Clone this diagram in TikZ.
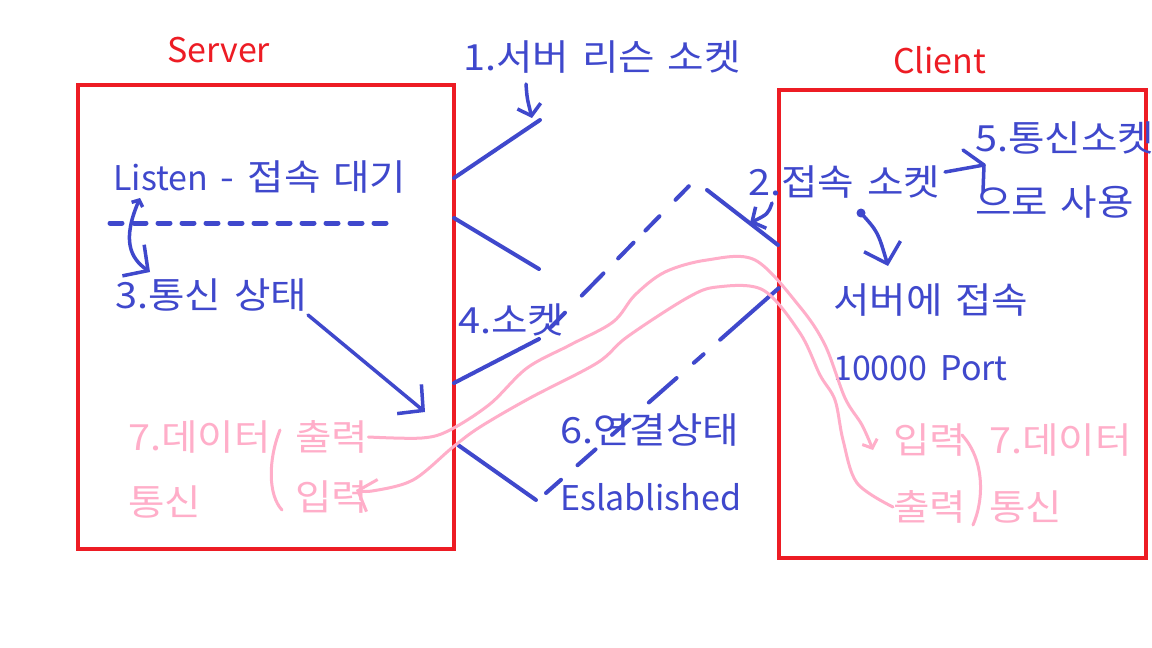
\documentclass[tikz,border=0pt]{standalone}
\usepackage{fontspec}
\setmainfont{Noto Sans CJK KR}
\newfontfamily\kr[Scale=1.06,FakeStretch=1.1,WordSpace=1.45]{Noto Sans CJK KR}
\usetikzlibrary{positioning,arrows.meta}
\definecolor{penblue}{HTML}{3F48CC}
\definecolor{penred}{HTML}{ED1C24}
\definecolor{penpink}{HTML}{FFAEC9}

\begin{document}
\begin{tikzpicture}[x=1pt,y=-1pt,node distance=65pt,
    every node/.style={inner sep=0pt,font=\fontsize{34}{40}\selectfont},
    kor/.style={font=\fontsize{34}{40}\selectfont\kr},
    lbl/.style={text=penblue,anchor=west},
    ttl/.style={text=penred,anchor=west},
    data/.style={text=penpink,anchor=west,kor},
    frame/.style={draw=penred,line width=4.5pt},
    stroke/.style={draw=penblue,line width=4pt,line cap=round},
    hand/.style={draw=penblue,line width=3.5pt,line cap=round,line join=round},
    pen/.style={draw=penpink,line width=3pt,line cap=round,line join=round},
    barb/.style={-{Straight Barb[length=10pt,width=24pt]}},
    bigbarb/.style={-{Straight Barb[length=18pt,width=38pt]}}]
    \useasboundingbox[fill=white] (0,0) rectangle (1152,648);

    % boxes
    \node[frame,minimum width=376pt,minimum height=464pt] (server) at (266,317) {};
    \node[frame,minimum width=367pt,minimum height=468pt] (client) at (962.5,324) {};
    \node[ttl] (srvname) at (167,50) {Server};
    \node[ttl] (cltname) at (893,60) {Client};

    % server side
    \node[lbl] (listen) at (113,177) {Listen{\kr\ - 접속 대기}};
    \node[lbl,kor] (state3) at (115,295) {3.통신 상태};
    \node[data] (data7l) at (128,437) {7.데이터};
    \node[data, below=of data7l.west, anchor=west] (comml) {통신};
    \node[data] (outl) at (295,437) {출력};
    \node[data, below=60pt of outl.west, anchor=west] (inl) {입력};

    % middle
    \node[lbl,kor] (listen1) at (463,57) {1.서버 리슨 소켓};
    \node[lbl,kor] (sock4) at (458,320) {4.소켓};
    \node[lbl,kor] (conn6) at (560,430) {6.연결상태};
    \node[lbl, below=67pt of conn6.west, anchor=west] (estab) {Eslablished};

    % client side
    \node[lbl,kor] (sock2) at (748,182) {2.접속 소켓};
    \node[lbl,kor] (sock5) at (975,138) {5.통신소켓};
    \node[lbl,kor, below=64pt of sock5.west, anchor=west] (use5) {으로 사용};
    \node[lbl,kor] (toserv) at (833,300) {서버에 접속};
    \node[lbl, below=68pt of toserv.west, anchor=west] (port) {10000{\kr\ }Port};
    \node[data] (inr) at (893,440) {입력};
    \node[data, below=67pt of inr.west, anchor=west] (outr) {출력};
    \node[data] (data7r) at (989,440) {7.데이터};
    \node[data, below=67pt of data7r.west, anchor=west] (commr) {통신};

    % socket strokes
    \coordinate (s1) at (454,178); \coordinate (s1e) at (540,120);
    \coordinate (s2) at (454,218); \coordinate (s2e) at (539,269);
    \coordinate (s3) at (454,383); \coordinate (s3e) at (539,339);
    \coordinate (s4) at (458,445); \coordinate (s4e) at (536,500);
    \coordinate (c1) at (707,190); \coordinate (c1e) at (778,245);
    \draw[stroke] (s1) -- (s1e);
    \draw[stroke] (s2) -- (s2e);
    \draw[stroke] (s3) -- (s3e);
    \draw[stroke] (s4) -- (s4e);
    \draw[stroke] (c1) -- (c1e);
    \draw[stroke,dash pattern=on 20pt off 24pt on 31pt off 21pt on 22pt off 17pt on 20pt off 23pt on 19pt off 10pt]
        (551,327) -- (691,184);
    \draw[stroke,dash pattern=on 20pt off 22pt on 24pt off 22pt on 23pt off 26pt on 37pt off 23pt on 13pt off 22pt on 78pt off 10pt]
        (546,493) -- (780,287);
    \draw[stroke,line width=5pt,dash pattern=on 12pt off 12pt] (110,223) -- (392,223);

    % hand arrows
    \draw[hand,barb] (526,84) .. controls (527,98) .. (532,118);
    \draw[hand,bigbarb] (308,315) -- (425,412);
    \draw[hand,{Straight Barb[length=5pt,width=12pt]}-{Straight Barb[length=18pt,width=38pt]}]
        (140,198) .. controls (122,240) and (130,258) .. (150,272);
    \draw[hand,barb] (772,203) .. controls (768,214) .. (750,223);
    \fill[penblue] (861,213) circle (4.5pt);
    \draw[hand,bigbarb] (861,213) .. controls (878,232) .. (888,266);
    \draw[hand] (945,172) -- (984,165) -- (983,192);
    \draw[hand] (963,150) -- (984,165);

    % data flow
    \draw[pen,-{Straight Barb[length=7pt,width=16pt]}] plot[smooth,tension=0.55] coordinates
        {(outl.east) (422,438) (450,430) (490,404) (527,368) (570,345) (613,322) (635,295) (665,272)
         (707,260) (755,260) (800,307) (825,345) (845,398) (862,425) (873,450)};
    \draw[pen,-{Straight Barb[length=15pt,width=34pt]}] plot[smooth,tension=0.55] coordinates
        {(outr.west) (857,483) (843,440) (835,400) (820,375) (800,333) (763,290) (717,287) (687,298)
         (627,337) (597,363) (530,398) (480,427) (453,447) (413,480) (372,491) (356,490)};
    \draw[pen] (280,430) .. controls (268,460) and (268,495) .. (282,510);
    \draw[pen] (962,435) .. controls (985,460) and (984,500) .. (973,525);
\end{tikzpicture}
\end{document}
